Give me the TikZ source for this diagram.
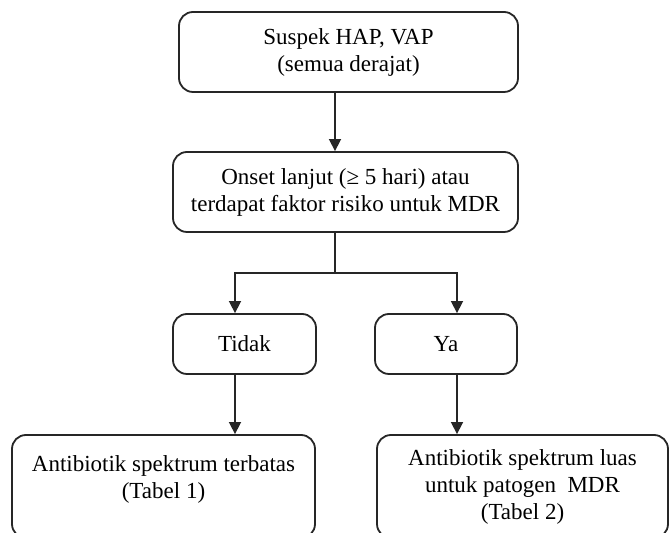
\documentclass[tikz,border=0pt]{standalone}
\usepackage{fontspec}
\setmainfont{Liberation Serif}
\usetikzlibrary{arrows.meta}

\begin{document}
\begin{tikzpicture}[
    x=0.5pt, y=-0.5pt,
    >={Triangle[length=6pt, width=6pt]},
    kotak/.style={
        draw=black!85, line width=0.9pt, rounded corners=7pt,
        align=center, inner sep=0pt,
        font=\fontsize{11.5}{13.5}\selectfont,
    },
    garis/.style={line width=0.8pt, black!85},
    panah/.style={->, line width=0.8pt, black!85},
]

\useasboundingbox (0,0) rectangle (670,533);

% ── Boxes ───────────────────────────────────────────────────
\node[kotak, minimum width=169.5pt, minimum height=40pt]
    (suspek) at (348.5, 52) {Suspek HAP, VAP\\(semua derajat)};
\node[kotak, minimum width=172.5pt, minimum height=40pt]
    (onset) at (345.5, 192)
    {Onset lanjut (≥ 5 hari) atau\\terdapat faktor risiko untuk MDR};
\node[kotak, minimum width=71.5pt, minimum height=30pt]
    (tidak) at (244.5, 344) {Tidak};
\node[kotak, minimum width=71pt, minimum height=30pt]
    (ya) at (446, 344) {Ya};
\node[kotak, minimum width=151.5pt, minimum height=51.5pt]
    (terbatas) at (163.5, 486.5)
    {Antibiotik spektrum terbatas\\(Tabel 1)\\[-4pt]};
\node[kotak, minimum width=145.5pt, minimum height=51.5pt]
    (luas) at (522.5, 486.5)
    {Antibiotik spektrum luas\\untuk patogen~ MDR\\(Tabel 2)};

% ── Columns of the connectors ───────────────────────────────
\coordinate (tengah) at (335, 0);
\coordinate (kiri)   at (235, 0);
\coordinate (kanan)  at (457, 0);
\coordinate (cabang) at (335, 273);

% ── Connectors ──────────────────────────────────────────────
\draw[panah] (suspek.south -| tengah) -- (onset.north -| tengah);
\draw[garis] (onset.south -| tengah) -- (cabang);
\draw[panah] (cabang) -| (tidak.north -| kiri);
\draw[panah] (cabang) -| (ya.north -| kanan);
\draw[panah] (tidak.south -| kiri) -- (terbatas.north -| kiri);
\draw[panah] (ya.south -| kanan) -- (luas.north -| kanan);

\end{tikzpicture}
\end{document}
